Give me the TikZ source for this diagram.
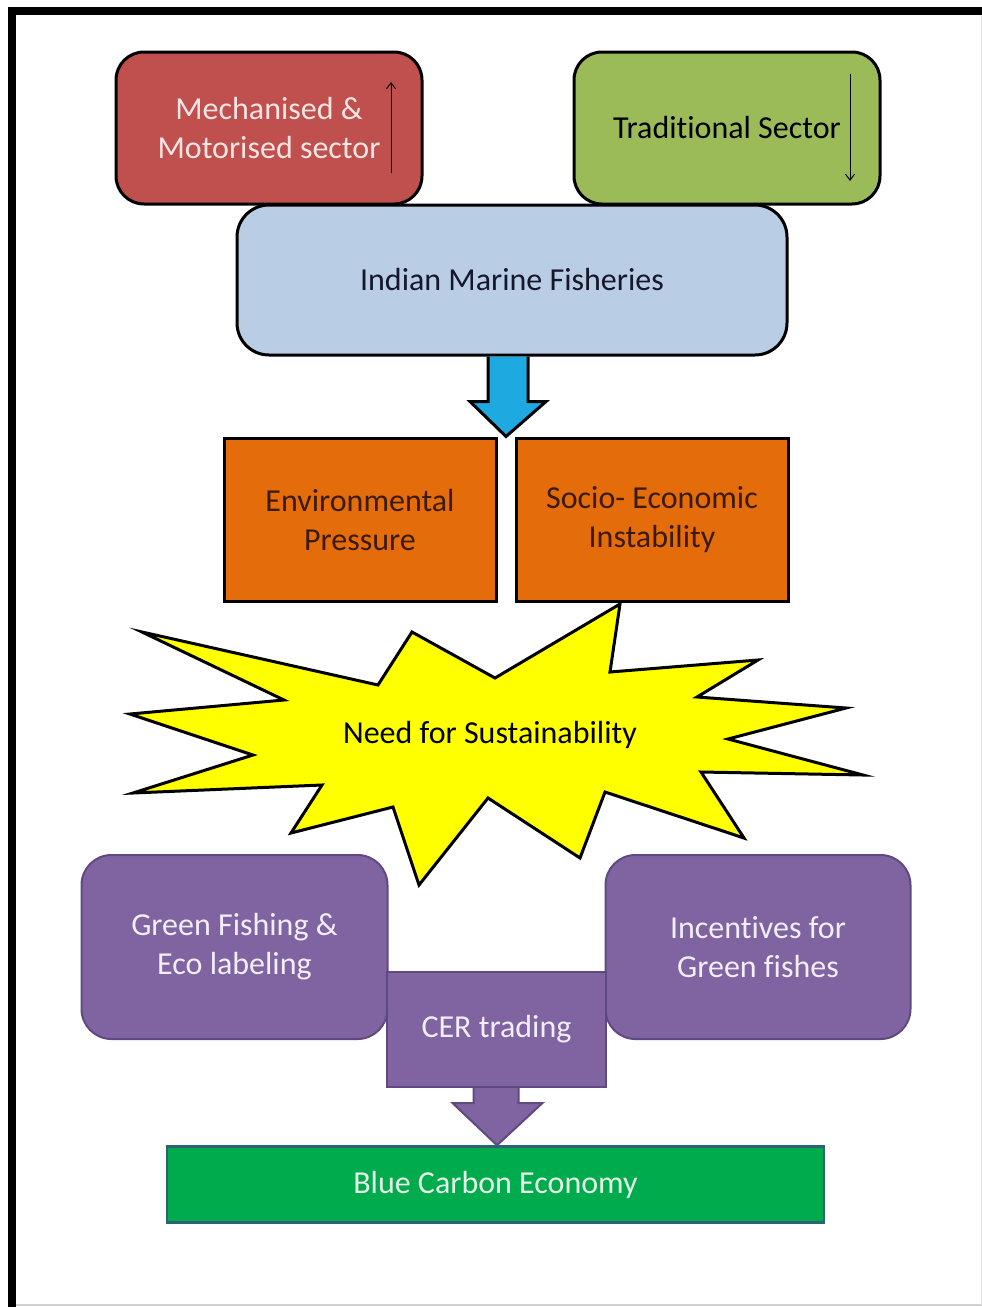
\documentclass[tikz,border=0pt]{standalone}
\usepackage{fontspec}
\setmainfont{Carlito}[RawFeature=-liga]
\usetikzlibrary{calc,arrows.meta}
\definecolor{redc}{HTML}{C0504D}
\definecolor{redtext}{HTML}{F7E4E3}
\definecolor{greenc}{HTML}{9BBB59}
\definecolor{bluebox}{HTML}{B9CDE5}
\definecolor{bluetext}{HTML}{15172A}
\definecolor{bluearrow}{HTML}{1EA9E1}
\definecolor{orangec}{HTML}{E46C0A}
\definecolor{orangetext}{HTML}{3B1B05}
\definecolor{yellowc}{HTML}{FFFF00}
\definecolor{purplec}{HTML}{8064A2}
\definecolor{purpleline}{HTML}{5E4A80}
\definecolor{purpletext}{HTML}{F2EEF7}
\definecolor{bcegreen}{HTML}{00AB4E}
\definecolor{bceline}{HTML}{2A6470}
\definecolor{bcetext}{HTML}{E4F6E4}
\definecolor{framegray}{HTML}{D0D0D0}
\begin{document}
\begin{tikzpicture}[x=1pt,y=-1pt,
  txt/.style={align=center,font=\fontsize{32}{39}\selectfont},
  box/.style={txt,draw=black,line width=3pt,inner sep=0pt},
  rbox/.style={box,rounded corners=28pt},
  pbox/.style={txt,draw=purpleline,line width=2pt,fill=purplec,text=purpletext,inner sep=0pt},
  thinarrow/.style={-{Straight Barb[length=6pt,width=9pt]},line width=1pt,draw=black},
  blockarrow/.style={line width=3pt,line join=miter}
]
\useasboundingbox (0,0) rectangle (982,1307);
\fill[white] (0,0) rectangle (982,1307);
% frame
\fill[black] (8,7) rectangle (982,15);
\fill[black] (8,7) rectangle (16,1307);
\draw[framegray,line width=1.5pt] (16,1305) -- (982,1305);
\draw[framegray!60,line width=1pt] (981,15) -- (981,1305);

% top boxes
\node[rbox,fill=redc,text=redtext,minimum width=306pt,minimum height=152pt] (mech) at (269,128) {Mechanised \&\\Motorised sector};
\node[rbox,fill=greenc,text=black,minimum width=306pt,minimum height=152pt] (trad) at (727,128) {Traditional Sector};
\coordinate (mechlow) at (391,173);
\coordinate (mechhigh) at (391,82);
\draw[thinarrow] (mechlow) -- (mechhigh);
\coordinate (tradhigh) at (850,74);
\coordinate (tradlow) at (850,181);
\draw[thinarrow] (tradhigh) -- (tradlow);

\node[rbox,fill=bluebox,text=bluetext,minimum width=550pt,minimum height=150pt,rounded corners=32pt] (imf) at (512,280) {Indian Marine Fisheries};

% orange boxes
\node[box,fill=orangec,text=orangetext,minimum width=272pt,minimum height=163pt] (env) at (360,519.5) {Environmental\\Pressure};
\node[box,fill=orangec,text=orangetext,minimum width=272pt,minimum height=163pt] (soc) at (652,519.5) {Socio- Economic\\Instability};

% blue block arrow from imf to the orange boxes
\coordinate (bat) at ($(imf.south)+(-4,0)$);
\coordinate (btip) at ($(env.north east)!0.5!(soc.north west)$);
\fill[bluearrow] ($(bat)+(-20,0)$) -- ($(bat)+(-20,45)$) -- ($(bat)+(-38,45)$) -- (btip) -- ($(bat)+(38,45)$) -- ($(bat)+(20,45)$) -- ($(bat)+(20,0)$) -- cycle;
\draw[blockarrow] ($(bat)+(-20,0)$) -- ($(bat)+(-20,45)$) -- ($(bat)+(-38,45)$) -- (btip) -- ($(bat)+(38,45)$) -- ($(bat)+(20,45)$) -- ($(bat)+(20,0)$);

% star
\draw[fill=yellowc,line width=3pt,line join=miter,miter limit=20]
 (142,632) -- (378,685) -- (412,632) -- (495,678) -- (620,604) -- (610,672)
 -- (758,660) -- (697,697) -- (846,708) -- (728,739) -- (863,775) -- (701,772)
 -- (744,838) -- (605,792) -- (580,858) -- (488,798) -- (419,885) -- (393,807)
 -- (291,833) -- (322,785) -- (133,793) -- (253,755) -- (130,714) -- (284,700) -- cycle;
\node[txt,text=black] (need) at (490,735) {Need for Sustainability};

% purple boxes
\node[pbox,rounded corners=30pt,minimum width=306pt,minimum height=184pt] (gfe) at (234.5,947) {Green Fishing \&\\Eco labeling};
\node[pbox,rounded corners=30pt,minimum width=305pt,minimum height=184pt] (inc) at (758,947) {Incentives for\\Green fishes};
\node[pbox,minimum width=219pt,minimum height=115pt] (cer) at (496.5,1029.5) {CER trading};

% green box
\node[txt,draw=bceline,line width=2.5pt,fill=bcegreen,text=bcetext,inner sep=0pt,minimum width=657pt,minimum height=76pt] (bce) at (495.5,1184.5) {Blue Carbon Economy};

% purple block arrow from cer to bce
\coordinate (pat) at (cer.south);
\coordinate (ptip) at (bce.north);
\path[fill=purplec,draw=purpleline,line width=2pt,line join=miter]
 ($(pat)+(-23,0)$) -- ($(pat)+(-23,15)$) -- ($(pat)+(-44,15)$) -- ($(ptip)+(1.5,0)$) -- ($(pat)+(46,15)$) -- ($(pat)+(22,15)$) -- ($(pat)+(22,0)$);
\end{tikzpicture}
\end{document}
